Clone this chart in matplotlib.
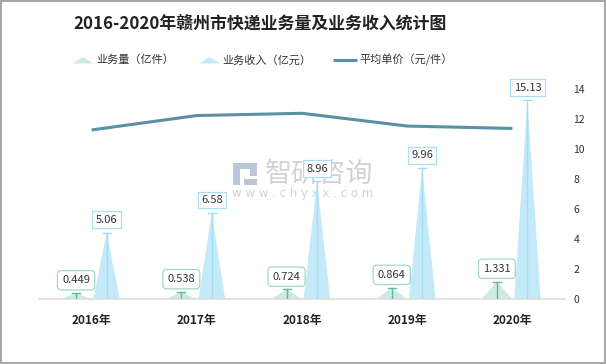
import matplotlib
matplotlib.use('Agg')
import matplotlib.pyplot as plt
from matplotlib.patches import Polygon, Rectangle

plt.rcParams['font.family'] = ['Noto Sans CJK SC', 'DejaVu Sans']

title = '2016-2020年赣州市快递业务量及业务收入统计图'
years = ['2016年', '2017年', '2018年', '2019年', '2020年']
volume = [0.449, 0.538, 0.724, 0.864, 1.331]      # 亿件
revenue = [5.06, 6.58, 8.96, 9.96, 15.13]         # 亿元
price = [11.27, 12.23, 12.38, 11.53, 11.37]       # 元/件
legend_labels = ['业务量（亿件）', '业务收入（亿元）', '平均单价（元/件）']
right_ticks = [0, 2, 4, 6, 8, 10, 12, 14]

W, H = 606, 364
fig = plt.figure(figsize=(W / 100, H / 100), dpi=100)
fig.patch.set_facecolor('white')

# overlay axes in pixel coords for legend, watermark, border
lax = fig.add_axes([0, 0, 1, 1])
lax.set_xlim(0, W)
lax.set_ylim(H, 0)
lax.axis('off')

# watermark
lax.add_patch(Rectangle((233, 163), 7, 22, color='#bcc6db', lw=0))
lax.add_patch(Rectangle((240, 163), 17, 6, color='#bcc6db', lw=0))
lax.add_patch(Rectangle((250, 163), 7, 13, color='#bcc6db', lw=0))
lax.add_patch(Rectangle((244, 179), 13, 6, color='#bcc6db', lw=0))
lax.text(265, 174, '智研咨询', fontsize=19.5, color='#d2d2d2', ha='left', va='center')
lax.text(303, 193, 'w w w . c h y x x . c o m', fontsize=8.5, color='#d2d2d2',
         ha='center', va='center', family='DejaVu Sans')

# border
lax.add_patch(Rectangle((1, 1), W - 2, H - 2, fill=False, edgecolor='#a8a8a8', lw=1.5))

# title
fig.text(260 / W, 1 - 24 / H, title, ha='center', va='center', fontsize=12.2,
         fontweight='bold', color='#222222')

# legend
vol_fill = '#cce9e3'
vol_line = '#62b8a8'
vol_edge = '#a3d7cb'
rev_fill = '#c4eafa'
rev_line = '#a4dcf0'
rev_edge = '#a9def2'
line_col = '#5a90a3'

lax.add_patch(Polygon([(73, 63.5), (93, 63.5), (83, 57)], closed=True, color=vol_fill, lw=0))
lax.text(96, 60, legend_labels[0], fontsize=8, color='#333333', ha='left', va='center')
lax.add_patch(Polygon([(199, 63.5), (220, 63.5), (209.5, 57)], closed=True, color=rev_fill, lw=0))
lax.text(222, 60, legend_labels[1], fontsize=8, color='#333333', ha='left', va='center')
lax.plot([333, 357], [60, 60], color=line_col, lw=2.2, solid_capstyle='butt')
lax.text(359, 60, legend_labels[2], fontsize=8, color='#333333', ha='left', va='center')

# main axes
x0, x1, yb, yt = 39, 565, 299, 89
ax = fig.add_axes([x0 / W, (H - yb) / H, (x1 - x0) / W, (yb - yt) / H])
ax.set_facecolor('none')
ax.set_xlim(-0.5, len(years) - 0.5)
ax.set_ylim(0, 16)
ax.set_yticks([])
for s in ['left', 'right', 'top']:
    ax.spines[s].set_visible(False)
ax.spines['bottom'].set_color('#dddddd')
ax.spines['bottom'].set_linewidth(1.2)
ax.set_xticks(range(len(years)))
ax.set_xticklabels(years, fontsize=8.5, fontweight='bold', color='#222222')
ax.tick_params(axis='x', length=0, pad=11)

pxu = (x1 - x0) / len(years)
vol_off, vol_hw = -15.5 / pxu, 15 / pxu
rev_off, rev_hw = 15 / pxu, 13.3 / pxu
cap = 4 / pxu

for i in range(len(years)):
    # volume spike
    cx = i + vol_off
    v = volume[i]
    ax.add_patch(Polygon([(cx - vol_hw, 0), (cx + vol_hw, 0), (cx, v)], closed=True,
                         color=vol_fill, lw=0, zorder=2))
    ax.plot([cx, cx], [0, v], color=vol_line, lw=1, zorder=3)
    ax.plot([cx - cap, cx + cap], [v, v], color=vol_line, lw=1, zorder=3)
    ax.annotate(f'{v}', xy=(cx, v), xytext=(0, 9.2), textcoords='offset points',
                ha='center', va='center', fontsize=8, color='#333333', zorder=5,
                bbox=dict(boxstyle='round,pad=0.42,rounding_size=0.35', fc='white',
                          ec=vol_edge, lw=0.9))
    # revenue spike
    cx = i + rev_off
    r = revenue[i]
    ax.add_patch(Polygon([(cx - rev_hw, 0), (cx + rev_hw, 0), (cx, r)], closed=True,
                         color=rev_fill, lw=0, zorder=2))
    ax.plot([cx, cx], [0, r], color=rev_line, lw=1, zorder=3)
    ax.plot([cx - cap, cx + cap], [r, r], color=rev_line, lw=1, zorder=3)
    ax.annotate(f'{r}', xy=(cx, r), xytext=(0, 9.2), textcoords='offset points',
                ha='center', va='center', fontsize=8, color='#333333', zorder=5,
                bbox=dict(boxstyle='square,pad=0.3', fc='white', ec=rev_edge, lw=0.9))

ax2 = ax.twinx()
ax2.set_ylim(0, 14)
ax2.set_yticks(right_ticks)
ax2.set_yticklabels([str(t) for t in right_ticks], fontsize=7.5, color='#333333')
ax2.tick_params(axis='y', length=0, pad=6)
for s in ['left', 'right', 'top', 'bottom']:
    ax2.spines[s].set_visible(False)
ax2.plot(range(len(years)), price, color=line_col, lw=2.2, zorder=4,
         solid_capstyle='butt')

fig.savefig('out.png', dpi=100, facecolor='white')
